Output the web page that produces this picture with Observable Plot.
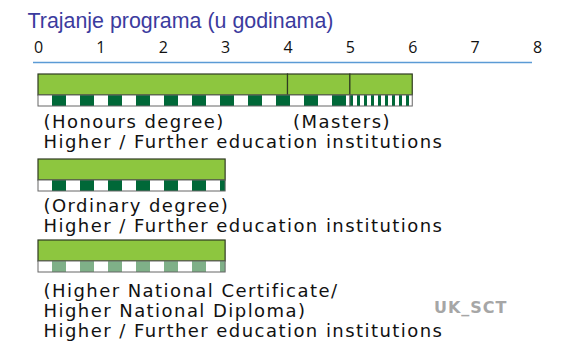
<!DOCTYPE html>
<html>
<head>
<meta charset="utf-8">
<script src="https://cdn.jsdelivr.net/npm/d3@7"></script>
<script src="https://cdn.jsdelivr.net/npm/@observablehq/plot@0.6"></script>
<style>
  html, body { margin: 0; padding: 0; background: #fff; }
  svg { display: block; }
</style>
</head>
<body>
<div id="chart"></div>
<script>
// ---- data ----
const title = "Trajanje programa (u godinama)";
const tickValues = [0, 1, 2, 3, 4, 5, 6, 7, 8];

// green programme blocks (years)
const segRow   = [0, 0, 0, 1, 2];
const segStart = [0, 4, 5, 0, 0];
const segEnd   = [4, 5, 6, 3, 3];

// patterned strips under the blocks
const stripRow   = [0, 0, 1, 2];
const stripStart = [0, 5, 0, 0];
const stripEnd   = [5, 6, 3, 3];
const stripKind  = ["full", "part", "full", "light"];

// text labels
const labelRow   = [0, 0, 0, 1, 1, 2, 2, 2];
const labelStart = [0, 4, 0, 0, 0, 0, 0, 0];
const labelLine  = [0, 0, 1, 0, 1, 0, 1, 2];
const labelText  = [
  "(Honours degree)", "(Masters)", "Higher / Further education institutions",
  "(Ordinary degree)", "Higher / Further education institutions",
  "(Higher National Certificate/", "Higher National Diploma)", "Higher / Further education institutions"
];
const sourceText = "UK_SCT";

// ---- layout (pixels) ----
const W = 562, H = 343;
const rowTop = [74, 159, 240];
const greenH = 21, stripH = 11;
const firstLine = [53, 52, 56];
const lineH = 20;

const segs = segRow.map((r, i) => ({row: r, x1: segStart[i], x2: segEnd[i]}));
const strips = stripRow.map((r, i) => ({row: r, x1: stripStart[i], x2: stripEnd[i], kind: stripKind[i]}));
const labels = labelRow.map((r, i) => ({row: r, x: labelStart[i], line: labelLine[i], text: labelText[i]}));

const patternId = {full: "pFull", part: "pPart", light: "pLight"};
const textFont = "'DejaVu Sans', Verdana, sans-serif";

const chart = Plot.plot({
  width: W,
  height: H,
  marginLeft: 38,
  marginRight: 25,
  marginTop: 0,
  marginBottom: 0,
  x: {domain: [0, 8], axis: null},
  y: {type: "identity", axis: null},
  style: {background: "#fff", overflow: "visible"},
  marks: [
    // title
    Plot.text([title], {
      frameAnchor: "left", y: () => 27, dx: -11, text: d => d,
      textAnchor: "start", lineAnchor: "bottom",
      fontSize: 21.4, fill: "#3b3b9e", fontFamily: "'Liberation Sans', Arial, sans-serif"
    }),
    // tick labels
    Plot.text(tickValues, {
      x: d => d, y: () => 52, text: d => String(d), lineAnchor: "bottom",
      fontSize: 16, fill: "#111", fontFamily: "'Open Sans', 'Liberation Sans', sans-serif"
    }),
    // axis line
    Plot.ruleY([0], {
      x1: () => tickValues[0], x2: () => tickValues[tickValues.length - 1],
      y: () => 62, dx: -5, stroke: "#5b9bd5", strokeWidth: 1.5
    }),
    // green blocks
    Plot.rect(segs, {
      x1: "x1", x2: "x2",
      y1: d => rowTop[d.row], y2: d => rowTop[d.row] + greenH,
      fill: "#8dc63f", stroke: "#2f3a22", strokeWidth: 1.2, inset: 0
    }),
    // patterned strips
    Plot.rect(strips, {
      x1: "x1", x2: "x2",
      y1: d => rowTop[d.row] + greenH, y2: d => rowTop[d.row] + greenH + stripH,
      fill: d => `url(#${patternId[d.kind]})`, stroke: "#666", strokeWidth: 1, inset: 0
    }),
    // labels
    Plot.text(labels, {
      x: "x", y: d => rowTop[d.row] + firstLine[d.row] + d.line * lineH,
      text: "text", dx: 5, textAnchor: "start", lineAnchor: "bottom",
      fontSize: 18, fill: "#111", fontFamily: textFont
    }),
    // source
    Plot.text([sourceText], {
      frameAnchor: "right", y: () => 312, dx: -30, text: d => d,
      textAnchor: "end", lineAnchor: "bottom",
      fontSize: 16, fontWeight: "bold", fill: "#a6a6a6", fontFamily: textFont
    })
  ]
});

// SVG patterns for the strips, aligned to the start of the x scale
const x0 = chart.scale("x").apply(0);
const svg = d3.select(chart.tagName === "svg" ? chart : chart.querySelector("svg"));
const defs = svg.insert("defs", ":first-child");
function addPattern(id, w, whiteW, color) {
  const p = defs.append("pattern")
    .attr("id", id).attr("patternUnits", "userSpaceOnUse")
    .attr("x", x0).attr("y", 0).attr("width", w).attr("height", 400);
  p.append("rect").attr("width", w).attr("height", 400).attr("fill", color);
  p.append("rect").attr("width", whiteW).attr("height", 400).attr("fill", "#fff");
}
addPattern("pFull", 28, 14, "#006838");
addPattern("pLight", 28, 14, "#7fb088");
addPattern("pPart", 7, 4, "#006838");

// letter spacing to match the wide original lettering
svg.selectAll("text").filter(function () { return labelText.includes(this.textContent); })
  .attr("letter-spacing", "1.45px");
svg.selectAll("text").filter(function () { return this.textContent === sourceText; })
  .attr("letter-spacing", "1px");

document.getElementById("chart").append(chart);
</script>
</body>
</html>
